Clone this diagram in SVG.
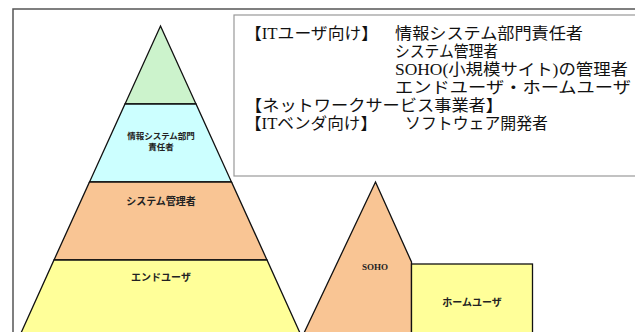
<svg xmlns="http://www.w3.org/2000/svg" width="635" height="332" viewBox="0 0 635 332">
<style>
.layer{stroke:#111;stroke-width:1.3;stroke-linejoin:miter}
.lbl{font-family:"Liberation Sans","Noto Sans CJK JP",sans-serif;font-size:10px;font-weight:bold;fill:#222;text-anchor:middle}
.sm{font-size:8.5px}
.soho{font-family:"Liberation Serif",serif;font-size:9px;font-weight:bold;fill:#222;text-anchor:middle}
.leg{font-family:"Liberation Serif","Noto Sans CJK JP",serif;font-size:16px;fill:#111}
</style>
<rect x="0" y="0" width="635" height="332" fill="#fff"/>
<g id="frame">
<path d="M13,332 V9 H635" fill="none" stroke="#555" stroke-width="1.5"/>
</g>
<g id="legend">
<rect x="234" y="15" width="410" height="161" fill="#fff" stroke="#999" stroke-width="1.2"/>
<text class="leg" x="245" y="39" textLength="133" lengthAdjust="spacingAndGlyphs">【ITユーザ向け】</text>
<text class="leg" x="395" y="39" textLength="188" lengthAdjust="spacingAndGlyphs">情報システム部門責任者</text>
<text class="leg" x="395" y="57" textLength="103" lengthAdjust="spacingAndGlyphs">システム管理者</text>
<text class="leg" x="395" y="75" textLength="233" lengthAdjust="spacingAndGlyphs">SOHO(小規模サイト)の管理者</text>
<text class="leg" x="395" y="93" textLength="236" lengthAdjust="spacingAndGlyphs">エンドユーザ・ホームユーザ</text>
<text class="leg" x="245" y="111" textLength="258" lengthAdjust="spacingAndGlyphs">【ネットワークサービス事業者】</text>
<text class="leg" x="245" y="129" textLength="132" lengthAdjust="spacingAndGlyphs">【ITベンダ向け】</text>
<text class="leg" x="405" y="129" textLength="143" lengthAdjust="spacingAndGlyphs">ソフトウェア開発者</text>
</g>
<g id="pyramid-top">
<polygon class="layer" points="160.5,26 196,104 125,104" fill="#ccf3cc"/>
</g>
<g id="pyramid-info-manager">
<polygon class="layer" points="125,104 196,104 231.5,182 89.5,182" fill="#ccffff"/>
<text class="lbl sm" x="161" y="139">情報システム部門</text>
<text class="lbl sm" x="161" y="150">責任者</text>
</g>
<g id="pyramid-sysadmin">
<polygon class="layer" points="89.5,182 231.5,182 267,260 54,260" fill="#f9c594"/>
<text class="lbl" x="161" y="205">システム管理者</text>
</g>
<g id="pyramid-enduser">
<polygon class="layer" points="54,260 267,260 300,333 21,333" fill="#ffff99"/>
<text class="lbl" x="161" y="281">エンドユーザ</text>
</g>
<g id="soho">
<polygon class="layer" points="375.5,182 411.5,262 411.5,333 304,333" fill="#f9c594"/>
<text class="soho" x="375" y="270">SOHO</text>
</g>
<g id="home-user">
<rect class="layer" x="411.5" y="264" width="121" height="75" fill="#ffff99"/>
<text class="lbl" x="472" y="306">ホームユーザ</text>
</g>
<g id="connectors"/>
</svg>
